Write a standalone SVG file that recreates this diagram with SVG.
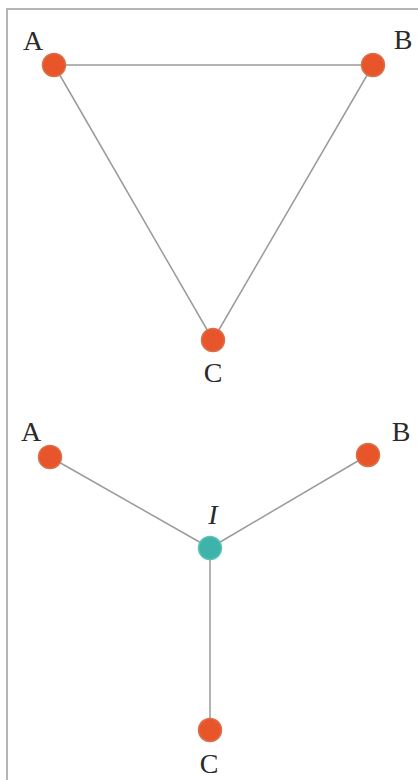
<svg xmlns="http://www.w3.org/2000/svg" width="418" height="780" viewBox="0 0 418 780">
<style>
.frame{stroke:#b4b4b4;stroke-width:2;fill:none}
.edge{stroke:#9a9a9a;stroke-width:1.5;fill:none}
.pt{fill:#e8552a;stroke:#d9704a;stroke-width:1.5}
.ctr{fill:#3db3a9;stroke:#5cc3ba;stroke-width:1.5}
.lbl{font-family:"Liberation Serif","DejaVu Serif",serif;font-size:28px;fill:#2a2a2a}
.it{font-style:italic}
</style>
<rect width="418" height="780" fill="#ffffff"/>
<path class="frame" d="M7,780 V9 H418"/>
<g id="connectors">
<line class="edge" x1="54" y1="65" x2="373" y2="65"/>
<line class="edge" x1="54" y1="65" x2="213" y2="340"/>
<line class="edge" x1="373" y1="65" x2="213" y2="340"/>
<line class="edge" x1="50" y1="457" x2="210" y2="548"/>
<line class="edge" x1="368" y1="455" x2="210" y2="548"/>
<line class="edge" x1="210" y1="548" x2="210" y2="730"/>
</g>
<g id="A1"><circle class="pt" cx="54" cy="65" r="11.5"/><text class="lbl" x="33" y="50" text-anchor="middle">A</text></g>
<g id="B1"><circle class="pt" cx="373" cy="65" r="11.5"/><text class="lbl" x="403" y="49" text-anchor="middle">B</text></g>
<g id="C1"><circle class="pt" cx="213" cy="340" r="11.5"/><text class="lbl" x="213" y="382" text-anchor="middle">C</text></g>
<g id="A2"><circle class="pt" cx="50" cy="457" r="11.5"/><text class="lbl" x="31" y="441" text-anchor="middle">A</text></g>
<g id="B2"><circle class="pt" cx="368" cy="455" r="11.5"/><text class="lbl" x="401" y="441" text-anchor="middle">B</text></g>
<g id="I"><circle class="ctr" cx="210" cy="548" r="11.5"/><text class="lbl it" x="213" y="524" text-anchor="middle">I</text></g>
<g id="C2"><circle class="pt" cx="210" cy="730" r="11.5"/><text class="lbl" x="209" y="773" text-anchor="middle">C</text></g>
</svg>
